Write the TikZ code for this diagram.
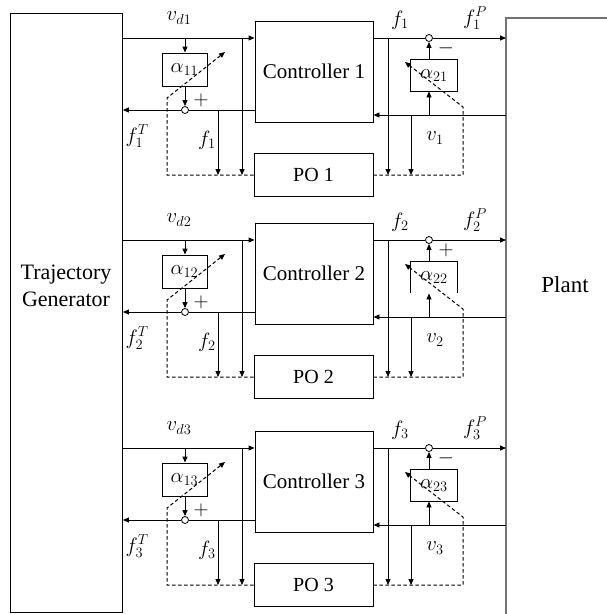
\documentclass[tikz,border=0pt]{standalone}
\usepackage{fontspec}
\setmainfont{Liberation Serif}
\usetikzlibrary{arrows.meta}
\begin{document}
\begin{tikzpicture}[x=1pt,y=-1pt,
  line width=0.9pt,
  blk/.style={draw, rectangle, inner sep=0pt, font=\fontsize{21}{24}\selectfont},
  arr/.style={-{Triangle[length=6pt,width=5pt]}},
  sumc/.style={circle, draw, fill=white, minimum size=7pt, inner sep=0pt, line width=0.8pt},
  dsh/.style={draw=black, dash pattern=on 3.5pt off 2.5pt, line width=1pt},
  lbl/.style={inner sep=0pt, font=\fontsize{20}{24}\selectfont},
  txt/.style={inner sep=0pt, font=\fontsize{22}{26}\selectfont, align=center}]
\useasboundingbox (0,0) rectangle (606,614);
% Trajectory generator
\node[draw, inner sep=0pt, minimum width=112pt, minimum height=599pt, anchor=north west] (tg) at (10,13) {};
\node[txt] (tgt) at (66,286) {Trajectory\\[1pt]Generator};
% Plant
\node[inner sep=0pt, minimum width=100pt, minimum height=596pt, anchor=north west] (pt) at (506,18) {};
\draw[draw=black!55, line width=1.2pt] (pt.south west) -- (pt.north west) -- (pt.north east);
\node[txt, font=\fontsize{23}{26}\selectfont] (ptt) at (565,285) {Plant};
% x positions
\coordinate (xa) at (218,0);
\coordinate (xb) at (242,0);
\coordinate (xc) at (388,0);
\coordinate (xd) at (411,0);
\foreach \i/\yb/\sg in {1/38/-,2/240/+,3/448/-} {
  \coordinate (L\i) at (0,\yb);
  \coordinate (V\i) at (0,\yb+77);
  \node[blk, minimum width=118pt, minimum height=101pt] (c\i) at (314,\yb+33.5) {Controller \i};
  \node[blk, minimum width=119pt, minimum height=43pt, font=\fontsize{20}{24}\selectfont] (p\i) at (313.5,\yb+137) {PO \i};
  % left side
  \node[blk, minimum width=45pt, minimum height=33pt] (al\i) at (184.5,\yb+31.5) {$\alpha_{1\i}$};
  \node[sumc] (sl\i) at (185,\yb+72) {};
  \draw[arr] (tg.east |- L\i) -- (c\i.west |- L\i);
  \draw[arr] (sl\i |- L\i) -- (sl\i |- al\i.north);
  \draw[arr] (sl\i |- al\i.south) -- (sl\i.north);
  \draw (c\i.west |- sl\i) -- (sl\i.east);
  \draw[arr] (sl\i.west) -- (tg.east |- sl\i);
  \draw[arr] (xa |- sl\i) -- (xa |- p\i.west);
  \draw[arr] (xb |- L\i) -- (xb |- p\i.west);
  \coordinate (dl\i) at (167,\yb+60);
  \coordinate (tl\i) at (225,\yb+14);
  \draw[dsh, arr] (p\i.west) -| (dl\i) -- (tl\i);
  % right side
  \node[sumc] (sr\i) at (429,\yb) {};
  \node[inner sep=0pt, minimum width=46pt, minimum height=31pt, font=\fontsize{20}{22}\selectfont] (ar\i) at (434,\yb+37.5) {$\alpha_{2\i}$};
  \ifnum\i=2
    \draw (ar\i.south west) -- (ar\i.north west) -- (ar\i.north east) -- (ar\i.south east);
  \else
    \draw (ar\i.south west) rectangle (ar\i.north east);
  \fi
  \draw (c\i.east |- L\i) -- (sr\i.west);
  \draw[arr] (sr\i.east) -- (pt.west |- L\i);
  \draw[arr] (sr\i |- ar\i.north) -- (sr\i.south);
  \draw[arr] (pt.west |- V\i) -- (c\i.east |- V\i);
  \draw[arr] (sr\i |- V\i) -- (sr\i |- ar\i.south);
  \draw[arr] (xc |- L\i) -- (xc |- p\i.east);
  \draw[arr] (xd |- V\i) -- (xd |- p\i.east);
  \coordinate (dr\i) at (463,\yb+69);
  \coordinate (tr\i) at (405,\yb+24);
  \draw[dsh, arr] (p\i.east) -| (dr\i) -- (tr\i);
  % labels
  \node[lbl] (lvd\i) at (179,\yb-20) {$v_{d\i}$};
  \node[lbl] (lft\i) at (137,\yb+98) {$f_{\i}^{T}$};
  \node[lbl] (lfl\i) at (207,\yb+102) {$f_{\i}$};
  \node[lbl] (lfr\i) at (400,\yb-18) {$f_{\i}$};
  \node[lbl] (lfp\i) at (475,\yb-20) {$f_{\i}^{P}$};
  \node[lbl] (lv\i) at (435,\yb+100) {$v_{\i}$};
  \node[lbl] (sgr\i) at (446,\yb+10) {$\sg$};
  \node[lbl] (sgl\i) at (201,\yb+62) {$+$};
}
\end{tikzpicture}
\end{document}
